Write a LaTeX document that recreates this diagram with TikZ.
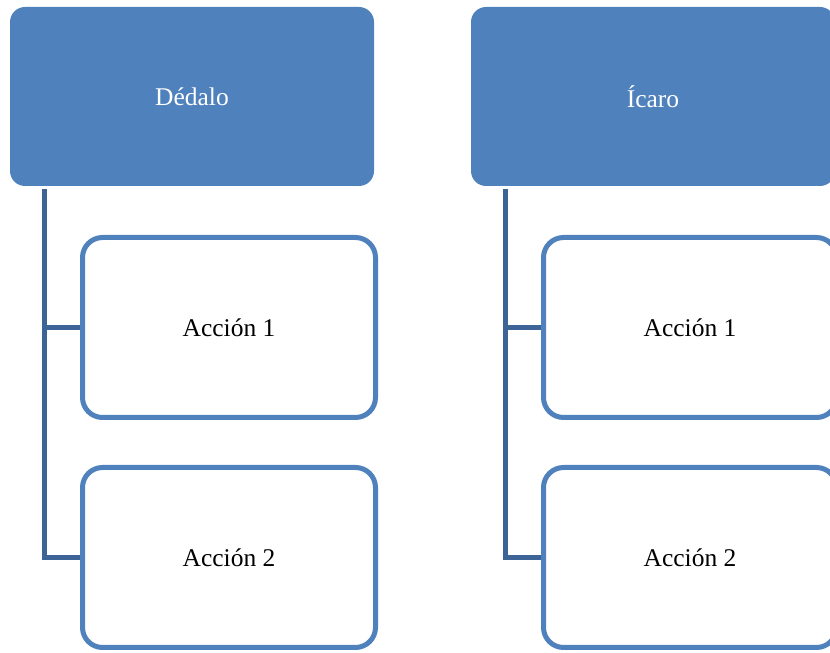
\documentclass[tikz,border=0pt]{standalone}
\usepackage{fontspec}
\setmainfont{Liberation Serif}
\definecolor{headblue}{HTML}{4F81BD}
\definecolor{linkblue}{HTML}{3C6496}
\tikzset{
  head/.style={fill=headblue, draw=none, rounded corners=15pt, minimum width=364pt, minimum height=179pt, text=white},
  action/.style={draw=headblue, line width=5pt, fill=white, rounded corners=20pt, minimum width=293pt, minimum height=180pt, text=black},
  link/.style={draw=linkblue, line width=5pt}
}
\begin{document}
\begin{tikzpicture}[x=1pt, y=1pt, font=\fontsize{25.5}{30}\selectfont]
  \useasboundingbox (0,0) rectangle (830,653);
  \clip (0,0) rectangle (830,653);
  % first column
  \node[head] (dedalo) at (192,556.5) {Dédalo};
  \node[action] (dedaloA) at (229,325.5) {Acción 1};
  \node[action] (dedaloB) at (229,95.5) {Acción 2};
  \coordinate (dedaloTop) at (44,464);
  \draw[link] (dedaloTop) |- (dedaloA.west);
  \draw[link] (dedaloTop) |- (dedaloB.west);
  % second column
  \node[head] (icaro) at (653,556.5) {Ícaro};
  \node[action] (icaroA) at (690,325.5) {Acción 1};
  \node[action] (icaroB) at (690,95.5) {Acción 2};
  \coordinate (icaroTop) at (505,464);
  \draw[link] (icaroTop) |- (icaroA.west);
  \draw[link] (icaroTop) |- (icaroB.west);
\end{tikzpicture}
\end{document}
